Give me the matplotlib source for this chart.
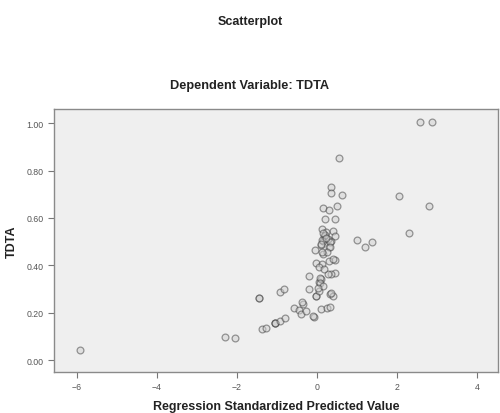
"""SPSS-style scatterplot of standardized predicted values against TDTA."""

import matplotlib

matplotlib.use("Agg")
import matplotlib.pyplot as plt

# standardized predicted value (x) and TDTA (y)
pred_values = [
    -5.93, -2.30, -2.04, -1.46, -1.46, -0.93, -0.83, -1.38, -1.28,
    -1.05, -1.05, -1.05, -0.93, -0.80, -0.58, -0.45, -0.40, -0.34,
    -0.38, -0.28, -0.08, 0.09, 0.24, -0.21, -0.20, -0.03, -0.03,
    0.06, 0.04, 0.11, 0.33, 0.40, -0.03, 0.13, 0.29, 0.45, 0.45,
    0.36, -0.04, 0.11, 0.29, 0.16, 0.36, 0.16, 0.08, 0.28, 0.08,
    0.16, 0.36, -0.10, 0.33, 0.34, 0.34, 0.62, 0.16, 0.31, 0.51,
    0.20, 0.45, 0.40, 0.45, 0.13, 0.23, 0.18, 0.28, 0.13, 0.33,
    0.20, 0.33, 1.00, 1.20, 1.38, 0.55, 2.05, 2.81, 2.30, 2.59,
    2.89, 0.40, 0.15, 0.22, 0.10, 0.25, 0.05, 0.18, 0.02, 0.12,
]
tdta_values = [
    0.042, 0.099, 0.095, 0.262, 0.262, 0.287, 0.300, 0.131, 0.135,
    0.158, 0.158, 0.158, 0.166, 0.179, 0.219, 0.211, 0.194, 0.236,
    0.247, 0.207, 0.181, 0.215, 0.219, 0.300, 0.357, 0.270, 0.270,
    0.291, 0.329, 0.342, 0.278, 0.270, 0.411, 0.407, 0.418, 0.422,
    0.369, 0.365, 0.466, 0.485, 0.479, 0.504, 0.504, 0.447, 0.348,
    0.363, 0.327, 0.312, 0.285, 0.188, 0.224, 0.729, 0.707, 0.696,
    0.641, 0.633, 0.651, 0.595, 0.595, 0.546, 0.525, 0.553, 0.540,
    0.523, 0.510, 0.506, 0.498, 0.527, 0.477, 0.506, 0.478, 0.497,
    0.854, 0.691, 0.651, 0.536, 1.005, 1.005, 0.426, 0.535, 0.515,
    0.490, 0.455, 0.395, 0.385, 0.305, 0.455,
]

x_ticks = [-6, -4, -2, 0, 2, 4]
y_ticks = [0.0, 0.2, 0.4, 0.6, 0.8, 1.0]

plt.rcParams["font.family"] = ["Liberation Sans", "DejaVu Sans"]

fig = plt.figure(figsize=(5.0, 4.14), dpi=100)
fig.patch.set_facecolor("white")
ax = fig.add_axes([0.108, 0.099, 0.888, 0.635])
ax.set_facecolor("#efefef")

ax.scatter(
    pred_values,
    tdta_values,
    s=24,
    facecolors="#d0d0d0",
    edgecolors="#3a3a3a",
    linewidths=0.9,
    alpha=0.5,
    zorder=3,
)

ax.set_xlim(-6.58, 4.53)
ax.set_ylim(-0.05, 1.059)
ax.set_xticks(x_ticks)
ax.set_yticks(y_ticks)
ax.set_yticklabels([f"{v:.2f}" for v in y_ticks])

for spine in ax.spines.values():
    spine.set_color("#8a8a8a")
    spine.set_linewidth(1.0)

ax.tick_params(
    axis="both",
    direction="out",
    length=4,
    width=0.8,
    color="#777777",
    labelsize=6.3,
    labelcolor="#555555",
)

ax.set_xlabel(
    "Regression Standardized Predicted Value",
    fontsize=9,
    fontweight="bold",
    color="#222222",
    labelpad=6,
)
ax.set_ylabel("TDTA", fontsize=9, fontweight="bold", color="#222222", labelpad=6)

fig.text(0.5, 0.946, "Scatterplot", ha="center", va="center",
         fontsize=9, fontweight="bold", color="#222222")
fig.text(0.5, 0.792, "Dependent Variable: TDTA", ha="center", va="center",
         fontsize=9.2, fontweight="bold", color="#222222")

fig.savefig("out.png", dpi=100)
